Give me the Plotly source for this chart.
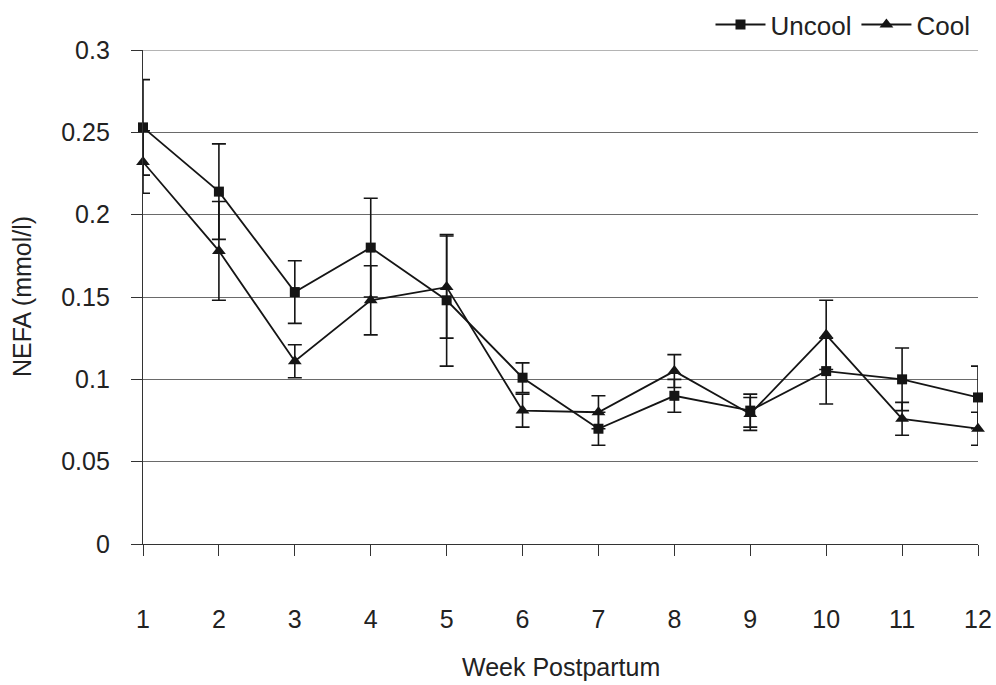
import plotly.graph_objects as go

# Weekly plasma NEFA (mmol/l), mean and standard error per group
weeks = [1, 2, 3, 4, 5, 6, 7, 8, 9, 10, 11, 12]
uncool = [0.253, 0.214, 0.153, 0.180, 0.148, 0.101, 0.070, 0.090, 0.081, 0.105, 0.100, 0.089]
uncool_se = [0.029, 0.029, 0.019, 0.030, 0.040, 0.009, 0.010, 0.010, 0.010, 0.020, 0.019, 0.019]
cool = [0.232, 0.178, 0.111, 0.148, 0.156, 0.081, 0.080, 0.105, 0.079, 0.127, 0.076, 0.070]
cool_se = [0.019, 0.030, 0.010, 0.021, 0.031, 0.010, 0.010, 0.010, 0.010, 0.021, 0.010, 0.010]

FONT = "Liberation Sans, Arial, sans-serif"
INK = "#151515"
Y_MAX = 0.3

fig = go.Figure()

fig.add_trace(go.Scatter(
    x=weeks, y=uncool, name="Uncool", mode="lines+markers",
    line=dict(color=INK, width=1.8),
    marker=dict(symbol="square", size=10, color=INK),
    error_y=dict(type="data", array=uncool_se, visible=True,
                 color=INK, thickness=1.6, width=7),
    cliponaxis=False,
))

fig.add_trace(go.Scatter(
    x=weeks, y=cool, name="Cool", mode="lines+markers",
    line=dict(color=INK, width=1.8),
    marker=dict(symbol="triangle-up", size=12, color=INK),
    error_y=dict(type="data", array=cool_se, visible=True,
                 color=INK, thickness=1.6, width=7),
    cliponaxis=False,
))

# top gridline at the upper end of the value axis
fig.add_shape(type="line", xref="paper", yref="y", x0=0, x1=1,
              y0=Y_MAX, y1=Y_MAX, line=dict(color="#6a6a6a", width=1),
              layer="below")

fig.update_layout(
    width=996, height=685,
    margin=dict(l=143, r=18, t=49.5, b=140.5, pad=0, autoexpand=False),
    paper_bgcolor="white", plot_bgcolor="white",
    font=dict(family=FONT, size=25, color="#222"),
    showlegend=True,
    legend=dict(
        orientation="h", xanchor="right", x=0.997, yanchor="top", y=1.099,
        font=dict(size=26, color="#222"), bgcolor="rgba(0,0,0,0)",
        traceorder="normal", itemwidth=50,
    ),
    xaxis=dict(
        range=[1, 12], tickmode="array", tickvals=weeks,
        ticktext=[str(w) for w in weeks],
        showgrid=False, zeroline=False,
        showline=True, linecolor="#333", linewidth=1.3,
        ticks="outside", ticklen=11, tickwidth=1.2, tickcolor="#333",
        ticklabelstandoff=42,
        tickfont=dict(size=25),
    ),
    yaxis=dict(
        range=[0, Y_MAX], dtick=0.05, tick0=0,
        showgrid=True, gridcolor="#6a6a6a", gridwidth=1,
        zeroline=False,
        showline=True, linecolor="#333", linewidth=1.3,
        ticks="outside", ticklen=11, tickwidth=1.2, tickcolor="#333",
        ticklabelstandoff=16,
        tickfont=dict(size=25),
    ),
    annotations=[
        dict(text="Week Postpartum", xref="paper", yref="paper",
             x=0.5, y=0, yshift=-123, xanchor="center", yanchor="middle",
             showarrow=False, font=dict(size=25)),
        dict(text="NEFA (mmol/l)", xref="paper", yref="paper",
             x=0, y=0.5, xshift=-121, xanchor="center", yanchor="middle",
             textangle=-90, showarrow=False, font=dict(size=25)),
    ],
)

fig.write_html("out.html")
